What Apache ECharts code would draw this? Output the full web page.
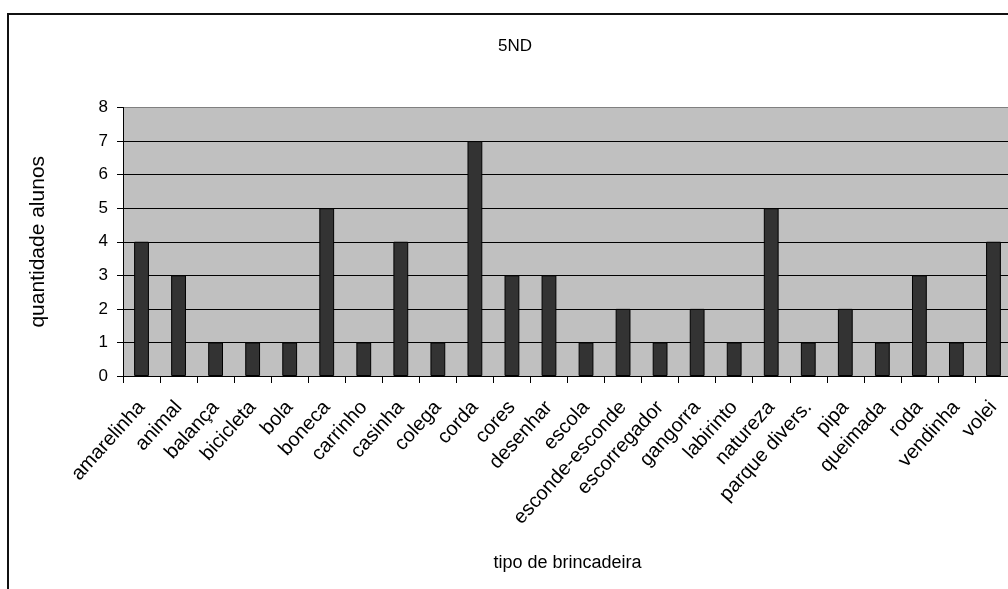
<!DOCTYPE html>
<html>
<head>
<meta charset="utf-8">
<script src="https://cdn.jsdelivr.net/npm/echarts@6/dist/echarts.min.js"></script>
<style>
html,body{margin:0;padding:0;background:#fff;}
#chart{width:1008px;height:589px;}
</style>
</head>
<body>
<div id="chart"></div>
<script>
const categories = ["amarelinha","animal","balança","bicicleta","bola","boneca","carrinho","casinha","colega","corda","cores","desenhar","escola","esconde-esconde","escorregador","gangorra","labirinto","natureza","parque divers.","pipa","queimada","roda","vendinha","volei"];
const values = [4,3,1,1,1,5,1,4,1,7,3,3,1,2,1,2,1,5,1,2,1,3,1,4];
const yTicks = [0,1,2,3,4,5,6,7,8];

const FONT = "'Liberation Sans', Arial, sans-serif";
const chart = echarts.init(document.getElementById('chart'), null, {renderer:'canvas'});
const gridColors = yTicks.map((v,i)=> i===yTicks.length-1 ? '#808080' : '#000000');
chart.setOption({
  backgroundColor:'#ffffff',
  animation:false,
  title:{text:'5ND', left:498, top:38, padding:0,
    textStyle:{fontFamily:FONT, fontSize:17, fontWeight:'normal', color:'#000'}},
  grid:{left:123, top:107.5, width:889, height:268.5, show:true,
    backgroundColor:'#c0c0c0', borderWidth:0, containLabel:false, outerBoundsMode:'none'},
  xAxis:{type:'category', data:categories,
    name:'tipo de brincadeira', nameLocation:'middle', nameGap:178,
    nameTextStyle:{fontFamily:FONT, fontSize:18, color:'#000'},
    axisLine:{lineStyle:{color:'#000', width:1}},
    axisTick:{show:true, length:7, lineStyle:{color:'#000'}},
    axisLabel:{rotate:48, interval:0, margin:28, fontFamily:FONT, fontSize:20, color:'#000'},
    splitLine:{show:false}},
  yAxis:{type:'value', min:0, max:8, interval:1,
    name:'quantidade alunos', nameLocation:'middle', nameGap:74, nameRotate:90,
    nameTextStyle:{fontFamily:FONT, fontSize:21, color:'#000'},
    axisLine:{show:true, lineStyle:{color:'#000', width:1}},
    axisTick:{show:true, length:6, lineStyle:{color:'#000'}},
    axisLabel:{margin:15, fontFamily:FONT, fontSize:17, color:'#000',
      formatter:(v)=> yTicks.includes(v) ? String(v) : ''},
    splitLine:{show:true, lineStyle:{color:gridColors, width:1}}},
  series:[{type:'bar', data:values, barWidth:'40%',
    itemStyle:{color:'#333333', borderColor:'#000', borderWidth:1}}],
  graphic:[{type:'rect', shape:{x:8, y:14, width:1040, height:620},
    style:{fill:null, stroke:'#111', lineWidth:2}, silent:true, z:100}]
});
</script>
</body>
</html>
